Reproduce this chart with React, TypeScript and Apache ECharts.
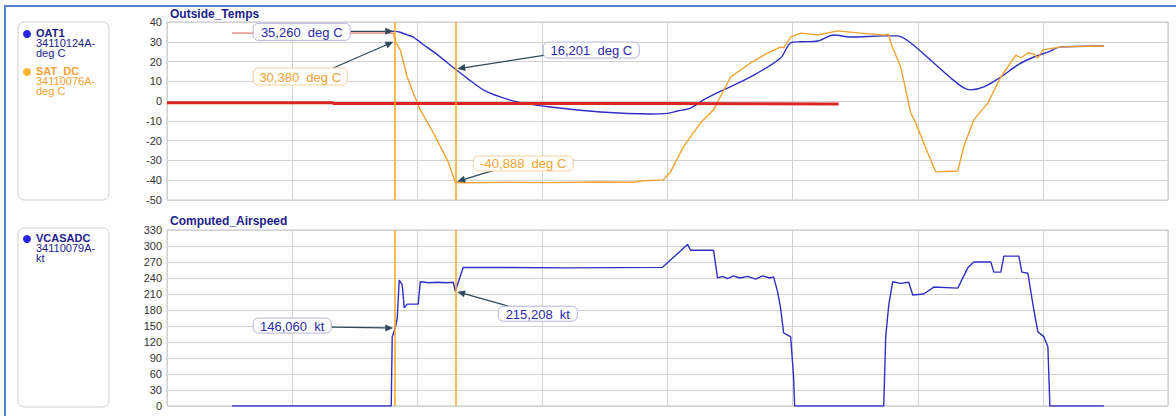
import React, { useEffect, useRef } from "react";
import * as echarts from "echarts";

// Time axis (arbitrary recorder units) and its grid spacing
const timeMin = 0;
const timeMax = 1000;
const timeStep = 125;

// Cursor positions shared by both panels
const cursorTimes = [228, 288];

// Outside temperatures, deg C
const oatT = [220, 228, 233, 240, 246, 255, 270, 288, 300, 316, 333, 350, 383, 433, 483, 500, 510, 523, 536, 556, 583, 613, 623, 633, 650, 666, 683, 716, 730, 743, 766, 783, 796, 803, 816, 833, 850, 866, 880, 893, 936];
const oatV = [35.3, 35.26, 34.8, 33.5, 32.4, 29, 23.5, 16.201, 11.5, 5.7, 2.1, -0.4, -3, -5.5, -6.5, -6.2, -5, -3.5, 0.6, 5.7, 12.2, 21.8, 29.5, 30, 30.4, 33.4, 32.4, 33, 33, 29.4, 19.3, 11.7, 6.7, 5.7, 7.2, 12.2, 18.3, 22.3, 24.8, 27.4, 27.9];

const satT = [226, 228, 233, 240, 246, 253, 266, 280, 288, 293, 340, 383, 430, 466, 476, 496, 503, 516, 533, 546, 563, 583, 600, 613, 616, 623, 633, 650, 670, 693, 716, 721, 723, 733, 743, 748, 760, 768, 790, 796, 806, 820, 833, 848, 853, 860, 866, 870, 875, 881, 893, 936];
const satV = [34.5, 30.38, 25.9, 12.2, 4.1, -4.4, -16, -29.7, -40.888, -41.3, -41.1, -41.2, -40.9, -41, -40.3, -39.8, -35.8, -23, -11, -4.4, 12.2, 19.3, 24.3, 27.4, 26.9, 32.4, 34.4, 33.4, 35.5, 34.4, 33.4, 33.8, 29.4, 17.3, -6, -11, -26.2, -35.8, -35.3, -23, -9.5, -1, 12.2, 23.3, 21.8, 24.3, 23.8, 21.8, 25.9, 26.4, 27.4, 27.9];

// Reference traces drawn in red
const refT = [0, 166, 166, 500, 500, 671];
const refV = [-0.8, -0.8, -1.2, -1.2, -1.5, -1.5];
const refTopT = [65, 226];
const refTopV = [34.4, 34.4];

// Computed airspeed, kt
const casT = [65, 224, 225, 228, 230, 232, 235, 237, 240, 251, 253, 262, 270, 280, 286, 288, 296, 400, 495, 508, 520, 523, 546, 550, 555, 560, 566, 572, 580, 588, 595, 602, 606, 610, 613, 616, 620, 623, 626, 627, 716, 718, 721, 725, 733, 741, 745, 756, 766, 790, 800, 806, 823, 826, 833, 836, 851, 854, 860, 863, 866, 870, 876, 880, 882, 936];
const casV = [0, 0, 130, 146.06, 165, 236, 227, 184, 191, 191, 233, 231, 232, 231, 232, 215.208, 260, 259, 260, 282, 303, 292, 292, 240, 243, 239, 244, 240, 243, 238, 244, 240, 242, 214, 183, 137, 133, 130, 54, 0, 0, 130, 189, 233, 230, 232, 208, 210, 223, 221, 259, 270, 270, 251, 251, 281, 281, 251, 249, 214, 180, 139, 130, 111, 0, 0];

const tempAxis = { min: -50, max: 40, step: 10 };
const speedAxis = { min: 0, max: 330, step: 30 };

const BLUE = "#2f2fc4";
const ORANGE = "#f2a232";
const RED = "#dc2626";
const CURSOR = "#f5a623";
const NAVY = "#1c1c8c";
const ARROW = "#2e4a5c";
const FONT = "Liberation Sans, Arial, sans-serif";

const zip = (t: number[], v: number[]) => t.map((x, i) => [x, v[i]]);
const valueAt = (t: number[], v: number[], at: number) => v[t.indexOf(at)];
const fmt = (v: number) => v.toFixed(3).replace(".", ",");

type Note = {
  grid: number;
  t: number[];
  v: number[];
  at: number;
  unit: string;
  color: string;
  border: string;
  box: [number, number, number, number];
  from: [number, number];
};

const notes: Note[] = [
  { grid: 0, t: oatT, v: oatV, at: 228, unit: "deg C", color: "#2a2aa8", border: "#b4b4dc", box: [-142, -8, 97, 17], from: [-45, 0] },
  { grid: 0, t: satT, v: satV, at: 228, unit: "deg C", color: ORANGE, border: "#f3d3a2", box: [-142, 27, 94, 17], from: [-62, 27] },
  { grid: 0, t: oatT, v: oatV, at: 288, unit: "deg C", color: "#2a2aa8", border: "#b4b4dc", box: [88, -27, 96, 16], from: [90, -14] },
  { grid: 0, t: satT, v: satV, at: 288, unit: "deg C", color: ORANGE, border: "#f3d3a2", box: [18, -26, 100, 15], from: [40, -12] },
  { grid: 1, t: casT, v: casV, at: 228, unit: "kt", color: "#2a2aa8", border: "#b4b4dc", box: [-142, -10, 78, 15], from: [-64, -1] },
  { grid: 1, t: casT, v: casV, at: 288, unit: "kt", color: "#2a2aa8", border: "#b4b4dc", box: [43, 15, 79, 15], from: [53, 15] },
];

const gridLine = { lineStyle: { color: "#d2d2d2", width: 1 } };

function yAxis(gridIndex: number, a: { min: number; max: number; step: number }) {
  return {
    type: "value",
    gridIndex,
    min: a.min,
    max: a.max,
    interval: a.step,
    axisLine: { show: false },
    axisTick: { show: false },
    axisLabel: { fontSize: 11, color: "#333", margin: 5, fontFamily: FONT },
    splitLine: gridLine,
  };
}

function xAxis(gridIndex: number) {
  return {
    type: "value",
    gridIndex,
    min: timeMin,
    max: timeMax,
    interval: timeStep,
    axisLabel: { show: false },
    axisTick: { show: false },
    axisLine: { show: false },
    splitLine: gridLine,
  };
}

const cursorLines = {
  silent: true,
  symbol: "none",
  label: { show: false },
  lineStyle: { color: CURSOR, width: 1.5, type: "solid" },
  data: cursorTimes.map((t) => ({ xAxis: t })),
};

// One legend entry: coloured dot plus a three-line label (name, channel code, unit)
function legendBlock(y: number, color: string, textColor: string, name: string, code: string, unit: string) {
  return [
    { type: "circle", shape: { cx: 27, cy: y, r: 4 }, style: { fill: color } },
    {
      type: "text",
      x: 36,
      y: y - 6,
      style: {
        text: `{b|${name}}\n{n|${code}}\n{n|${unit}}`,
        fill: textColor,
        font: `11px ${FONT}`,
        verticalAlign: "top",
        rich: {
          b: { fontWeight: "bold", fontSize: 11, fontFamily: FONT, lineHeight: 10, fill: textColor },
          n: { fontSize: 11, fontFamily: FONT, lineHeight: 10, fill: textColor },
        },
      },
    },
  ];
}

export default function App() {
  const ref = useRef<HTMLDivElement>(null);

  useEffect(() => {
    if (!ref.current) return;
    const chart = echarts.init(ref.current, undefined, { renderer: "svg" });

    chart.setOption({
      animation: false,
      backgroundColor: "#ffffff",
      grid: [
        { left: 167, top: 22, width: 1001, height: 178, show: true, borderColor: "#c4c4c4", borderWidth: 1 },
        { left: 167, top: 230, width: 1001, height: 176, show: true, borderColor: "#c4c4c4", borderWidth: 1 },
      ],
      xAxis: [xAxis(0), xAxis(1)],
      yAxis: [yAxis(0, tempAxis), yAxis(1, speedAxis)],
      series: [
        {
          name: "OAT1",
          type: "line",
          xAxisIndex: 0,
          yAxisIndex: 0,
          data: zip(oatT, oatV),
          showSymbol: false,
          smooth: 0.3,
          lineStyle: { color: BLUE, width: 1.4 },
          z: 3,
        },
        {
          name: "SAT_DC",
          type: "line",
          xAxisIndex: 0,
          yAxisIndex: 0,
          data: zip(satT, satV),
          showSymbol: false,
          lineStyle: { color: ORANGE, width: 1.4 },
          markLine: cursorLines,
          z: 3,
        },
        {
          name: "ref",
          type: "line",
          xAxisIndex: 0,
          yAxisIndex: 0,
          data: zip(refT, refV),
          showSymbol: false,
          lineStyle: { color: RED, width: 3 },
          z: 4,
        },
        {
          name: "refTop",
          type: "line",
          xAxisIndex: 0,
          yAxisIndex: 0,
          data: zip(refTopT, refTopV),
          showSymbol: false,
          lineStyle: { color: "#e05a4a", width: 1 },
          z: 2,
        },
        {
          name: "VCASADC",
          type: "line",
          xAxisIndex: 1,
          yAxisIndex: 1,
          data: zip(casT, casV),
          showSymbol: false,
          lineStyle: { color: BLUE, width: 1.4 },
          markLine: cursorLines,
          z: 3,
        },
      ],
    });

    const graphics: any[] = [
      { type: "rect", shape: { x: 5, y: 6, width: 1200, height: 440 }, style: { fill: "none", stroke: "#4f86c6", lineWidth: 2 }, silent: true },
      { type: "rect", shape: { x: 18, y: 22, width: 91, height: 178, r: 6 }, style: { fill: "#fff", stroke: "#cfcfcf", lineWidth: 1 } },
      { type: "rect", shape: { x: 18, y: 228, width: 91, height: 179, r: 6 }, style: { fill: "#fff", stroke: "#cfcfcf", lineWidth: 1 } },
      ...legendBlock(34, "#2626e0", NAVY, "OAT1", "34110124A-", "deg C"),
      ...legendBlock(72, "#f7b332", ORANGE, "SAT_DC", "34110076A-", "deg C"),
      ...legendBlock(239, "#2626e0", NAVY, "VCASADC", "34110079A-", "kt"),
      { type: "text", x: 170, y: 14, style: { text: "Outside_Temps", fill: NAVY, font: `bold 12px ${FONT}`, verticalAlign: "middle" } },
      { type: "text", x: 170, y: 221, style: { text: "Computed_Airspeed", fill: NAVY, font: `bold 12px ${FONT}`, verticalAlign: "middle" } },
    ];

    notes.forEach((n) => {
      const value = valueAt(n.t, n.v, n.at);
      const [px, py] = chart.convertToPixel({ gridIndex: n.grid } as any, [n.at, value]) as number[];
      const [bx, by, bw, bh] = n.box;
      const sx = px + n.from[0];
      const sy = py + n.from[1];
      const dx = px - sx;
      const dy = py - sy;
      const len = Math.hypot(dx, dy);
      const ux = dx / len;
      const uy = dy / len;
      const ex = px - ux * 2;
      const ey = py - uy * 2;
      const hx = ex - ux * 8;
      const hy = ey - uy * 8;
      graphics.push(
        { type: "line", shape: { x1: sx, y1: sy, x2: hx, y2: hy }, style: { stroke: ARROW, lineWidth: 1.3 }, z: 10 },
        {
          type: "polygon",
          shape: { points: [[ex, ey], [hx - uy * 3.5, hy + ux * 3.5], [hx + uy * 3.5, hy - ux * 3.5]] },
          style: { fill: ARROW },
          z: 10,
        },
        {
          type: "rect",
          shape: { x: px + bx, y: py + by, width: bw, height: bh, r: 5 },
          style: { fill: "#fff", stroke: n.border, lineWidth: 1 },
          z: 11,
        },
        {
          type: "text",
          x: px + bx + bw / 2,
          y: py + by + bh / 2 + 0.5,
          style: {
            text: `${fmt(value)}\u00a0 ${n.unit}`,
            fill: n.color,
            font: `13px ${FONT}`,
            align: "center",
            verticalAlign: "middle",
          },
          z: 12,
        }
      );
    });

    chart.setOption({ graphic: graphics });

    return () => chart.dispose();
  }, []);

  return (
    <div
      ref={ref}
      style={{ position: "fixed", left: 0, top: 0, width: 1176, height: 416, background: "#fff" }}
    />
  );
}
